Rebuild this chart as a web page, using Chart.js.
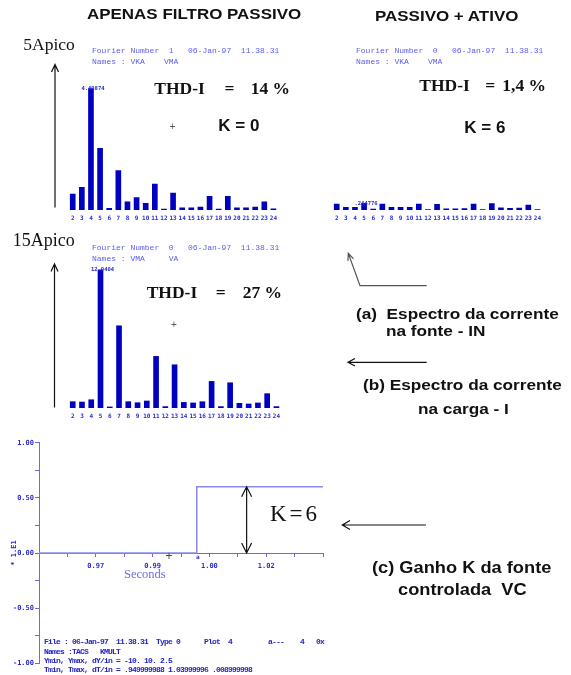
<!DOCTYPE html>
<html>
<head>
<meta charset="utf-8">
<script src="https://cdn.jsdelivr.net/npm/chart.js@4.4.1/dist/chart.umd.min.js"></script>
<style>
body{margin:0;background:#fff}
#pagina{position:relative;width:571px;height:675px;overflow:hidden;background:#fff}
canvas{position:absolute}
.t{position:absolute;white-space:pre;line-height:1}
svg{position:absolute;left:0;top:0}
</style>
</head>
<body>
<div id="pagina">
<canvas id="espectroFonte" width="216" height="147" style="left:66px;top:75px"></canvas>
<canvas id="espectroAtivo" width="216" height="147" style="left:330px;top:75px"></canvas>
<canvas id="espectroCarga" width="219" height="184" style="left:66px;top:236px"></canvas>
<canvas id="ganhoK" width="330" height="245" style="left:0;top:430px"></canvas>
<svg width="571" height="675" fill="none" stroke="#111" stroke-width="1.2">
<path d="M55 207.5V64.5M51.5 72L55 64.5L58.5 72"/>
<path d="M54.5 407.5V264M51 271.5L54.5 264L58 271.5"/>
<path d="M426.7 285.7H360L348.3 253.3M353.5 258.9L348.3 253.3L347.9 260.9" stroke="#555"/>
<path d="M426.7 362.3H348M355 358.5L348 362.3L355 366"/>
<path d="M426 525H342.3M350 520.5L342.3 525L350 529.5"/>
</svg>
</div>
<script>
Chart.defaults.font.family="DejaVu Sans Mono"
Chart.defaults.animation=false

// harmonicas 2 a 24
const harmonicos=["2","3","4","5","6","7","8","9","10","11","12","13","14","15","16","17","18","19","20","21","22","23","24"]

// (a) corrente na fonte, so filtro passivo (A)
const fontePassivo=[0.59,0.84,4.49874,2.28,0.06,1.46,0.30,0.46,0.25,0.96,0.03,0.63,0.085,0.085,0.11,0.51,0.03,0.51,0.085,0.085,0.11,0.30,0.04]
// corrente na fonte, passivo + ativo (A)
const fonteAtivo=[0.22,0.10,0.10,0.244776,0.03,0.22,0.10,0.10,0.10,0.22,0.02,0.21,0.04,0.04,0.05,0.22,0.02,0.24,0.08,0.06,0.07,0.18,0.02]
// (b) corrente na carga (A)
const carga=[0.55,0.52,0.72,12.0404,0.09,7.17,0.55,0.46,0.61,4.5,0.12,3.77,0.49,0.44,0.55,2.32,0.12,2.2,0.41,0.35,0.44,1.25,0.12]

// (c) ganho K
const kTempo=[0.95,1.0,1.0,1.04]
const kGanho=[0,0,0.6,0.6]
const setaTempo=1.0158
const xTicks=[0.959,0.968,0.977,0.986,0.995,1.004,1.013,1.022,1.031,1.04]
const xTickLabels=["","0.97","","0.99","","1.00","","1.02","",""]

const azulBarra="#0000c0"
const azulTick="#2b2bd4"
const azulTexto="#5c5cee"
const azulEixo="#6a6ae2"
const azulLinha="#8a8af0"

const rotuloPico={
id:"rotuloPico",
afterDatasetsDraw(chart){
const dados=chart.data.datasets[0].data
const i=dados.indexOf(Math.max(...dados))
const barra=chart.getDatasetMeta(0).data[i]
const ctx=chart.ctx
ctx.save()
ctx.fillStyle=azulTick
ctx.font="bold 5.5px 'DejaVu Sans Mono'"
ctx.textAlign="center"
ctx.textBaseline="middle"
ctx.fillText(String(dados[i]).replace(/^0\./,"."),barra.x+2,barra.y)
ctx.restore()
}
}

function espectro(id,valores,maximo){

new Chart(document.getElementById(id),{
type:"bar",
data:{
labels:harmonicos,
datasets:[{
data:valores,
backgroundColor:azulBarra,
barThickness:5,
borderWidth:0
}]
},
options:{
responsive:false,
layout:{padding:0},
plugins:{legend:{display:false},tooltip:{enabled:false}},
scales:{
x:{
grid:{display:false,drawTicks:false},
border:{display:false},
ticks:{autoSkip:false,maxRotation:0,padding:5,color:azulTick,font:{size:6,weight:"bold"}},
afterFit:s=>{s.height=12}
},
y:{display:false,min:0,max:maximo}
}
},
plugins:[rotuloPico]
})

}

espectro("espectroFonte",fontePassivo,5)
espectro("espectroAtivo",fonteAtivo,5)
espectro("espectroCarga",carga,15)

const setaK={
id:"setaK",
afterDatasetsDraw(chart){
const {ctx,scales:{x,y}}=chart
const px=x.getPixelForValue(setaTempo)
const y0=y.getPixelForValue(0)
const y1=y.getPixelForValue(kGanho[kGanho.length-1])
ctx.save()
ctx.strokeStyle="#111"
ctx.lineWidth=1.2
ctx.beginPath()
ctx.moveTo(px,y0)
ctx.lineTo(px,y1)
ctx.moveTo(px-5,y1+10)
ctx.lineTo(px,y1)
ctx.lineTo(px+5,y1+10)
ctx.moveTo(px-5,y0-10)
ctx.lineTo(px,y0)
ctx.lineTo(px+5,y0-10)
ctx.stroke()
ctx.restore()
}
}

new Chart(document.getElementById("ganhoK"),{
type:"line",
data:{
datasets:[{
data:kTempo.map((t,i)=>({x:t,y:kGanho[i]})),
borderColor:azulLinha,
borderWidth:1.5,
pointRadius:0,
tension:0,
fill:false
}]
},
options:{
responsive:false,
layout:{padding:{left:0,right:7,top:12.7,bottom:11.7}},
plugins:{legend:{display:false},tooltip:{enabled:false}},
scales:{
x:{
type:"linear",
min:0.95,
max:1.04,
position:{y:0},
border:{color:azulEixo},
grid:{drawOnChartArea:false,color:azulEixo,tickLength:3},
afterBuildTicks:s=>{s.ticks=xTicks.map(v=>({value:v}))},
ticks:{autoSkip:false,maxRotation:0,padding:6,color:azulTick,font:{size:7,weight:"bold"},callback:(v,i)=>xTickLabels[i]}
},
y:{
min:-1,
max:1,
border:{color:azulEixo},
grid:{drawOnChartArea:false,color:azulEixo,tickLength:4},
title:{display:true,text:"* 1.E1",color:azulTick,font:{size:7,weight:"bold"},padding:{top:10,bottom:0}},
ticks:{stepSize:0.25,padding:1,color:azulTick,font:{size:7,weight:"bold"},
callback:v=>Math.abs(v*2-Math.round(v*2))<1e-6?v.toFixed(2):""},
afterFit:s=>{s.width=39}
}
}
},
plugins:[setaK]
})

// textos
const baseFator={"Liberation Sans":0.8465,"Liberation Serif":0.8375,"Liberation Mono":0.7665,"DejaVu Sans Mono":0.846}

function texto(str,x,base,familia,tam,peso,cor,extra){
const d=document.createElement("div")
d.className="t"
d.textContent=str
d.style.left=x+"px"
d.style.top=(base-baseFator[familia]*tam)+"px"
d.style.fontFamily="'"+familia+"'"
d.style.fontSize=tam+"px"
d.style.fontWeight=peso
d.style.color=cor
if(extra) Object.assign(d.style,extra)
document.getElementById("pagina").appendChild(d)
}

const sans="Liberation Sans"
const serif="Liberation Serif"
const mono="Liberation Mono"
const estica=s=>({transform:"scaleX("+s+")",transformOrigin:"0 0"})

texto("APENAS FILTRO PASSIVO",87.3,18.7,sans,15.5,"bold","#111",estica(1.094))
texto("PASSIVO + ATIVO",375,20.7,sans,15.5,"bold","#111",estica(1.094))

texto("5Apico",23.3,51,serif,17.5,"normal","#111")
texto("15Apico",12.7,245.7,serif,18,"normal","#111")

texto("Fourier Number  1   06-Jan-97  11.38.31",92,53.2,mono,8,"normal",azulTexto)
texto("Names : VKA    VMA",92,64.2,mono,8,"normal",azulTexto)
texto("Fourier Number  0   06-Jan-97  11.38.31",356,53.2,mono,8,"normal",azulTexto)
texto("Names : VKA    VMA",356,64.2,mono,8,"normal",azulTexto)
texto("Fourier Number  0   06-Jan-97  11.38.31",92,249.8,mono,8,"normal",azulTexto)
texto("Names : VMA     VA",92,260.8,mono,8,"normal",azulTexto)

texto("THD-I",154.3,94.3,serif,17.5,"bold","#111")
texto("=",224.5,94.3,serif,17.5,"bold","#111")
texto("14 %",250.7,94.3,serif,17.5,"bold","#111")
texto("THD-I",419.3,92,serif,17.5,"bold","#111")
texto("=",485.2,92,serif,17.5,"bold","#111")
texto("1,4 %",502.3,92,serif,17.5,"bold","#111")
texto("THD-I",146.7,299,serif,17.5,"bold","#111")
texto("=",215.8,299,serif,17.5,"bold","#111")
texto("27 %",242.7,299,serif,17.5,"bold","#111")

texto("K = 0",218.3,131.7,sans,17,"bold","#111")
texto("K = 6",464.3,133.7,sans,17,"bold","#111")

texto("+",169.5,130.5,sans,10,"normal","#555")
texto("+",171,328,sans,10,"normal","#555")

texto("(a)  Espectro da corrente",356,319,sans,15.5,"bold","#111",estica(1.11))
texto("na fonte - IN",386,336,sans,15.5,"bold","#111",estica(1.11))
texto("(b) Espectro da corrente",363.3,390,sans,15.5,"bold","#111",estica(1.11))
texto("na carga - I",418.3,414,sans,15.5,"bold","#111",estica(1.11))
texto("(c) Ganho K da fonte",371.7,574,sans,16,"bold","#111",estica(1.14))
texto("controlada  VC",397.7,595.5,sans,16,"bold","#111",estica(1.14))

texto("K=6",270,521.7,serif,23,"normal","#111",{letterSpacing:"3px"})
texto("Seconds",124,578.5,serif,12.5,"normal","#6c6ce6")
texto("a",196,559,"DejaVu Sans Mono",6,"bold",azulTick)
texto("+",165.5,560.5,sans,12,"normal","#444")

const rodape=[
"File : 06-Jan-97  11.38.31  Type 0      Plot  4         a---    4   0x",
"Names :TACS   KMULT",
"Ymin, Ymax, dY/in = -10. 10. 2.5",
"Tmin, Tmax, dT/in = .949999988 1.03999996 .008999998"
]
rodape.forEach((l,i)=>texto(l,44,644.5+i*9.3,mono,8,"bold","#2424c8",{letterSpacing:"-0.8px"}))
</script>
</body>
</html>
